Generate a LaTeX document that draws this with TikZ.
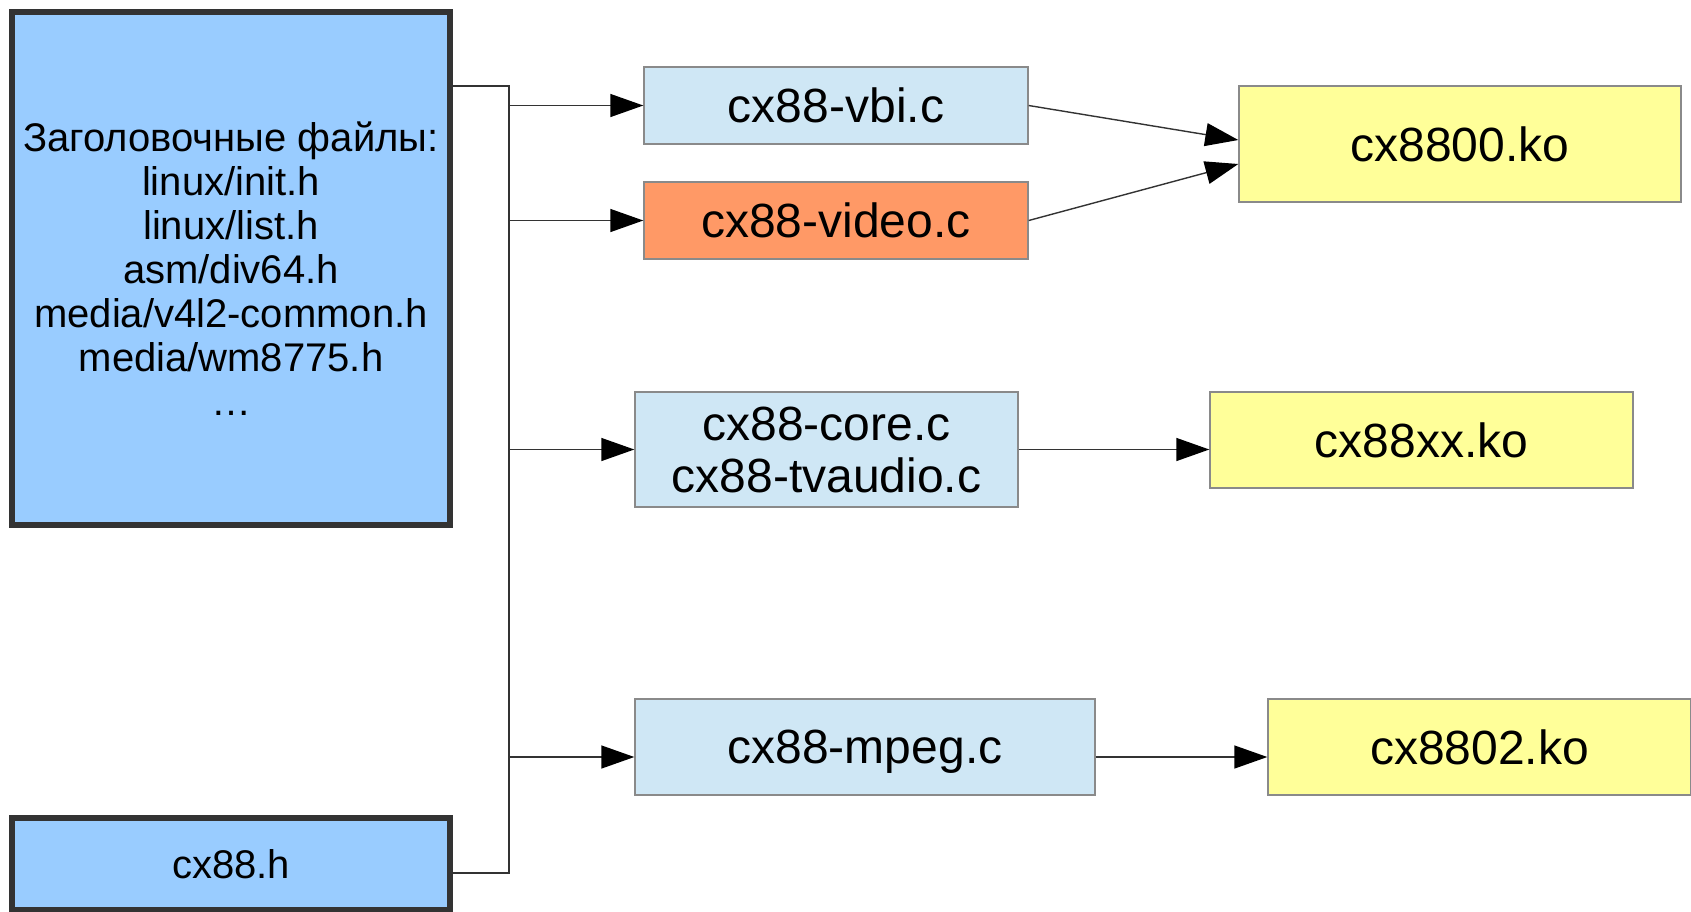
\documentclass[tikz,border=0pt]{standalone}
\usepackage{fontspec}
\setmainfont{Liberation Sans}
\usetikzlibrary{arrows.meta,calc}
\definecolor{hdrfill}{HTML}{99CCFF}
\definecolor{hdrline}{HTML}{333333}
\definecolor{srcfill}{HTML}{CFE7F5}
\definecolor{hotfill}{HTML}{FF9966}
\definecolor{kofill}{HTML}{FFFF99}
\definecolor{boxline}{HTML}{8A8A8A}
\definecolor{wire}{HTML}{333333}
\tikzset{
  hdrbox/.style={draw=hdrline, line width=3pt, fill=hdrfill, inner sep=0pt,
    align=center, font=\fontsize{20}{22}\selectfont},
  srcbox/.style={draw=boxline, line width=0.7pt, fill=srcfill, inner sep=0pt,
    align=center, font=\fontsize{24}{26}\selectfont},
  hotbox/.style={srcbox, fill=hotfill},
  kobox/.style={srcbox, fill=kofill},
  wireline/.style={draw=wire, line width=0.7pt},
  feed/.style={wireline, -{Triangle[length=16.5pt,width=11.5pt,color=black]}}
}
\begin{document}
\begin{tikzpicture}[x=0.5pt,y=-0.5pt]
\useasboundingbox (0,0) rectangle (1691,911);

% header sources
\node[hdrbox, minimum width=219pt, minimum height=256.5pt] (hdr) at (231,268.5)
  {Заголовочные файлы:\\linux/init.h\\linux/list.h\\asm/div64.h\\media/v4l2-common.h\\media/wm8775.h\\\ldots};
\node[hdrbox, minimum width=219pt, minimum height=46pt] (cxh) at (231,864) {cx88.h};

% C sources
\node[srcbox, minimum width=192pt, minimum height=38.5pt] (vbi) at (836,105.5) {cx88-vbi.c};
\node[hotbox, minimum width=192pt, minimum height=38.5pt] (video) at (836,220.5) {cx88-video.c};
\node[srcbox, minimum width=191.5pt, minimum height=57.5pt] (core) at (826.5,449.5) {cx88-core.c\\cx88-tvaudio.c};
\node[srcbox, minimum width=230pt, minimum height=48pt, text depth=0pt] (mpeg) at (865,747) {cx88-mpeg.c};

% kernel modules
\node[kobox, minimum width=221pt, minimum height=58pt] (k00) at (1460,144) {cx8800.ko};
\node[kobox, minimum width=211.5pt, minimum height=48pt] (kxx) at (1421.5,440) {cx88xx.ko};
\node[kobox, minimum width=211.5pt, minimum height=48pt] (k02) at (1479.5,747) {cx8802.ko};

% distribution bus
\coordinate (busTop) at (509,86);
\coordinate (busBot) at (509,873);
\coordinate (mrow) at (0,757);
\draw[wireline] (hdr.east |- busTop) -- (busTop) -- (busBot) -- (cxh.east |- busBot);

\draw[feed] (busTop |- vbi.west) -- (vbi.west);
\draw[feed] (busTop |- video.west) -- (video.west);
\draw[feed] (busTop |- core.west) -- (core.west);
\draw[feed] (busTop |- mrow) -- (mpeg.west |- mrow);

% builds
\draw[feed] (vbi.east) -- ($(k00.west)+(0,-4)$);
\draw[feed] (video.east) -- ($(k00.west)+(0,20)$);
\draw[feed] (core.east) -- (kxx.west |- core.east);
\draw[feed] (mpeg.east |- mrow) -- (k02.west |- mrow);
\end{tikzpicture}
\end{document}
